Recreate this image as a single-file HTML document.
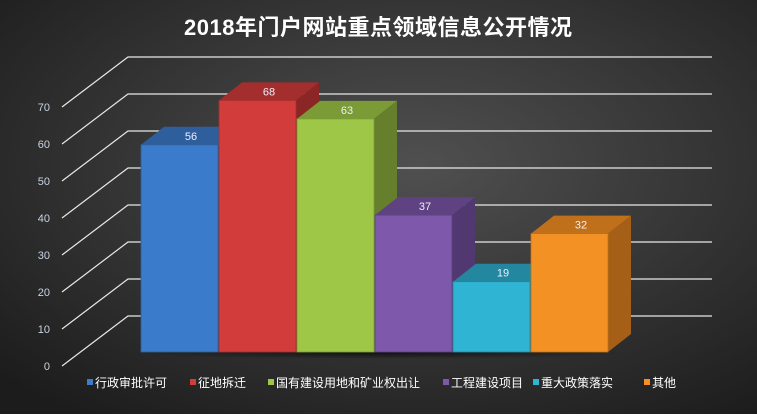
<!DOCTYPE html>
<html><head><meta charset="utf-8"><style>
body{margin:0;width:757px;height:414px;overflow:hidden;font-family:"Liberation Sans","Noto Sans CJK SC",sans-serif}
</style></head><body>
<svg id="c" width="757" height="414">
<defs>
<radialGradient id="bg" cx="0.55" cy="0.4" r="0.75">
<stop offset="0" stop-color="#505050"/><stop offset="1" stop-color="#1c1c1c"/>
</radialGradient>
<radialGradient id="sh" cx="0.5" cy="0.5" r="0.5"><stop offset="0" stop-color="#000" stop-opacity="0.6"/><stop offset="1" stop-color="#000" stop-opacity="0"/></radialGradient>
</defs>
<rect width="757" height="414" fill="url(#bg)"/>
<text x="378" y="35" text-anchor="middle" fill="#fff" font-size="22" font-weight="bold" textLength="388">2018年门户网站重点领域信息公开情况</text>
<g id="grid"></g>
<ellipse cx="380" cy="353" rx="250" ry="6" fill="url(#sh)"/>
<g id="bars"></g>
<g id="legend"></g>
</svg>
<script>
const categories=["行政审批许可","征地拆迁","国有建设用地和矿业权出让","工程建设项目","重大政策落实","其他"];
const values=[56,68,63,37,19,32];
const ticks=[0,10,20,30,40,50,60,70];
const colors=[["#3a7bcc","#2e5f9c","#28528a"],["#d23d3b","#a32e2d","#8c2626"],["#9ec748","#7a9b36","#657f2c"],["#7e58aa","#5f4282","#513870"],["#2fb4d4","#23889f","#1d7487"],["#f39125","#c0701a","#a55f16"]];
const legendX=[87,190,268,443,533,644];
const NS="http://www.w3.org/2000/svg";
function mk(t,a,p){const e=document.createElementNS(NS,t);for(const k in a)e.setAttribute(k,a[k]);p.appendChild(e);return e;}
const gridY=v=>366-v*3.7;
const barY=v=>352-v*3.7;
const barX=i=>141+i*78;
const BW=77,DX=23,DY=-18;
const g=document.getElementById('grid');
ticks.forEach(t=>{
 const y=gridY(t);
 const l=mk('polyline',{points:`62,${y} 128,${y-50} 712,${y-50}`,fill:'none',stroke:'#e8e8e8','stroke-width':1.2},g);
 
 
 const tx=mk('text',{x:50,y:y+4,'text-anchor':'end',fill:'#c8d4e4','font-size':11},g);
 tx.textContent=t;
 
 
});
const b=document.getElementById('bars');
values.forEach((v,i)=>{
 const x=barX(i),y=barY(v),y0=barY(0),c=colors[i];
 const grp=mk('g',{},b);
 
 
 mk('polygon',{points:`${x+BW},${y} ${x+BW+DX},${y+DY} ${x+BW+DX},${y0+DY} ${x+BW},${y0}`,fill:c[2]},grp);
 mk('polygon',{points:`${x},${y} ${x+DX},${y+DY} ${x+BW+DX},${y+DY} ${x+BW},${y}`,fill:c[1]},grp);
 mk('rect',{x:x,y:y,width:BW,height:y0-y,fill:c[0],stroke:c[1],'stroke-width':0.8},grp);
 const t=mk('text',{x:x+BW/2+DX/2,y:y+DY/2+4,'text-anchor':'middle',fill:'#eef','font-size':11},grp);
 t.textContent=v;
 
 
});
const lg=document.getElementById('legend');
categories.forEach((c,i)=>{
 const grp=mk('g',{},lg);
 
 
 mk('rect',{x:legendX[i],y:379,width:6,height:6,fill:colors[i][0]},grp);
 const t=mk('text',{x:legendX[i]+8,y:387,fill:'#fff','font-size':12},grp);
 t.textContent=c;
});
</script>
</body></html>
